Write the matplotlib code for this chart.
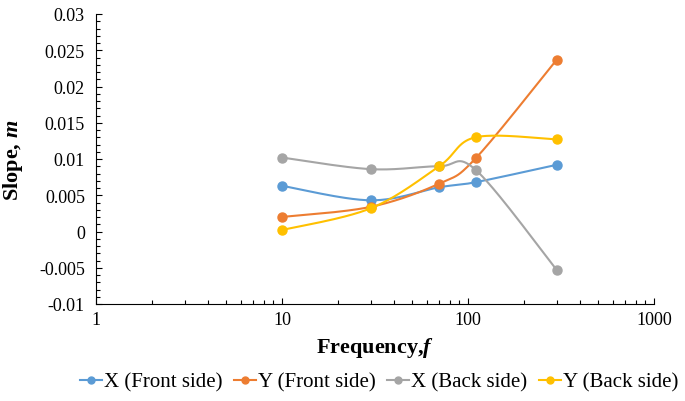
import numpy as np
import matplotlib
matplotlib.use('Agg')
from matplotlib import pyplot as plt
from matplotlib.ticker import FixedLocator, MultipleLocator, FuncFormatter, LogLocator, NullFormatter

# data
freq = [10, 30, 70, 110, 300]
x_front = [0.0063, 0.0043, 0.0061, 0.0068, 0.0092]
y_front = [0.0020, 0.0034, 0.0066, 0.0101, 0.0237]
x_back = [0.0102, 0.0086, 0.0090, 0.0085, -0.0053]
y_back = [0.0002, 0.0032, 0.0090, 0.0130, 0.0127]

names = ['X (Front side)', 'Y (Front side)', 'X (Back side)', 'Y (Back side)']
colors = ['#5B9BD5', '#ED7D31', '#A5A5A5', '#FFC000']

plt.rcParams['font.family'] = 'Liberation Serif'
plt.rcParams['mathtext.fontset'] = 'custom'
plt.rcParams['mathtext.rm'] = 'Liberation Serif'
plt.rcParams['mathtext.bfit'] = 'Liberation Serif:italic:bold'


def smooth(xs, ys, n=40):
	# Catmull-Rom style smoothing in screen-like units (log x)
	u = np.log10(xs) * 186.0
	v = np.array(ys) * 7250.0
	pts = np.column_stack([u, v])
	out = [pts[0]]
	for i in range(len(pts) - 1):
		p0 = pts[max(i - 1, 0)]
		p1 = pts[i]
		p2 = pts[i + 1]
		p3 = pts[min(i + 2, len(pts) - 1)]
		c1 = p1 + (p2 - p0) / 6.0
		c2 = p2 - (p3 - p1) / 6.0
		t = np.linspace(0, 1, n)[1:, None]
		seg = (1 - t) ** 3 * p1 + 3 * (1 - t) ** 2 * t * c1 + 3 * (1 - t) * t ** 2 * c2 + t ** 3 * p2
		out.extend(seg)
	out = np.array(out)
	return 10 ** (out[:, 0] / 186.0), out[:, 1] / 7250.0


fig = plt.figure(figsize=(6.85, 4.02), dpi=100)
ax = fig.add_axes([96 / 685, 1 - 305 / 402, (654 - 96) / 685, (305 - 15) / 402])

for name, col, vals in zip(names, colors, [x_front, y_front, x_back, y_back]):
	sx, sy = smooth(freq, vals)
	ax.plot(sx, sy, color=col, lw=1.5)
	ax.plot(freq, vals, 'o', color=col, ms=6.5)
	ax.plot([], [], '-o', color=col, lw=1.5, ms=5, label=name)

ax.set_xscale('log')
ax.set_xlim(1, 1000)
ax.set_ylim(-0.01, 0.03)
ax.xaxis.set_major_locator(FixedLocator([1, 10, 100, 1000]))
ax.xaxis.set_minor_locator(LogLocator(base=10, subs=np.arange(2, 10)))
ax.xaxis.set_minor_formatter(NullFormatter())
ax.xaxis.set_major_formatter(FuncFormatter(lambda v, p: '{0:g}'.format(v)))
ax.yaxis.set_major_locator(MultipleLocator(0.005))
ax.yaxis.set_minor_locator(MultipleLocator(0.001))
ax.yaxis.set_major_formatter(FuncFormatter(lambda v, p: '{0:g}'.format(round(v, 4))))

ax.tick_params(which='both', direction='in', labelsize=13, width=0.8)
ax.tick_params(which='major', length=4)
ax.tick_params(which='minor', length=3)
ax.tick_params(axis='y', pad=8)
ax.tick_params(axis='x', pad=5)
ax.spines['top'].set_visible(False)
ax.spines['right'].set_visible(False)

ax.set_xlabel(r'Frequency,$\mathbfit{f}$', fontsize=16, fontweight='bold', labelpad=5)
fig.text(13 / 685, 1 - 160 / 402, r'Slope, $\mathbfit{m}$', fontsize=16, fontweight='bold',
	rotation=90, ha='center', va='center')

fig.legend(loc='center', bbox_to_anchor=(379 / 685, 1 - 383 / 402), ncol=4, frameon=False,
	fontsize=15, handlelength=1.05, handletextpad=0.1, columnspacing=0.55, borderaxespad=0)

fig.savefig('out.png', dpi=100)
